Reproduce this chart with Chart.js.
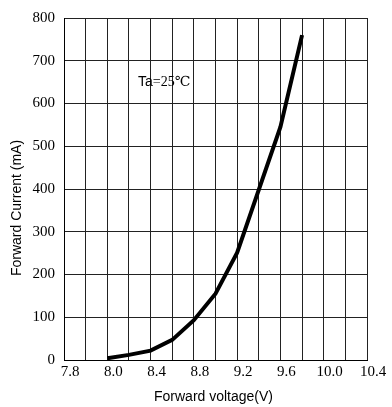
<!DOCTYPE html>
<html>
<head>
<meta charset="utf-8">
<script src="https://cdn.jsdelivr.net/npm/chart.js@4"></script>
<style>
  html, body { margin: 0; padding: 0; background: #fff; }
  #wrap { width: 392px; height: 407px; }
</style>
</head>
<body>
<div id="wrap"><canvas id="ivChart"></canvas></div>
<script>
// Forward voltage (V) vs forward current (mA), Ta = 25C
const voltage = [8.0, 8.2, 8.4, 8.6, 8.8, 9.0, 9.2, 9.6, 9.8];
const current = [4, 12, 22, 47, 93, 155, 251, 545, 760];

// x tick labels as printed on the sheet (first one sits on the 7.6 gridline)
const xTickValues = [7.6, 8.0, 8.4, 8.8, 9.2, 9.6, 10.0, 10.4];
const xTickLabels = ['7.8', '8.0', '8.4', '8.8', '9.2', '9.6', '10.0', '10.4'];

const xTitle = 'Forward voltage(V)';
const yTitle = 'Forward Current (mA)';

const serif = '"Liberation Serif", "DejaVu Serif", serif';
const sans = '"Liberation Sans", Arial, sans-serif';

const textPlugin = {
  id: 'sheetText',
  afterDraw(chart) {
    const { ctx, chartArea } = chart;
    ctx.save();
    ctx.fillStyle = '#000';
    ctx.textBaseline = 'middle';

    // x title
    ctx.font = '14px ' + sans;
    ctx.textAlign = 'center';
    ctx.fillText(xTitle, (chartArea.left + chartArea.right) / 2 - 2, chartArea.bottom + 37);

    // y title
    ctx.save();
    ctx.translate(17, (chartArea.top + chartArea.bottom) / 2 + 19);
    ctx.rotate(-Math.PI / 2);
    ctx.fillText(yTitle, 0, 0);
    ctx.restore();

    // Ta=25℃ note
    ctx.textAlign = 'left';
    let x = chartArea.left + 74;
    const y = chartArea.top + 64;
    ctx.font = '14px ' + sans;
    ctx.fillText('Ta', x, y);
    x += ctx.measureText('Ta').width;
    ctx.font = '14px ' + serif;
    ctx.fillText('=25℃', x, y);
    ctx.restore();
  }
};

new Chart(document.getElementById('ivChart'), {
  type: 'line',
  data: {
    datasets: [{
      data: voltage.map((v, i) => ({ x: v, y: current[i] })),
      borderColor: '#000',
      borderWidth: 4,
      pointRadius: 0,
      tension: 0,
      fill: false
    }]
  },
  options: {
    responsive: true,
    maintainAspectRatio: false,
    animation: false,
    layout: { padding: { top: 15, right: 25, left: 0, bottom: 0 } },
    plugins: {
      legend: { display: false },
      tooltip: { enabled: false }
    },
    scales: {
      x: {
        type: 'linear',
        min: 7.6,
        max: 10.4,
        afterFit(scale) { scale.height = 47; },
        afterBuildTicks(scale) {
          const ticks = [];
          for (let i = 0; i <= 14; i++) ticks.push({ value: Math.round((7.6 + i * 0.2) * 10) / 10 });
          scale.ticks = ticks;
        },
        ticks: {
          autoSkip: false,
          maxRotation: 0,
          padding: 3,
          labelOffset: 6,
          color: '#000',
          font: { family: serif, size: 15 },
          callback(value) {
            const idx = xTickValues.findIndex(t => Math.abs(t - value) < 1e-6);
            return idx >= 0 ? xTickLabels[idx] : '';
          }
        },
        grid: { color: '#222', lineWidth: 1, drawTicks: false },
        border: { color: '#000', width: 1 }
      },
      y: {
        min: 0,
        max: 800,
        afterFit(scale) { scale.width = 64; },
        ticks: {
          stepSize: 100,
          padding: 9,
          color: '#000',
          font: { family: serif, size: 15 }
        },
        grid: { color: '#222', lineWidth: 1, drawTicks: false },
        border: { color: '#000', width: 1 }
      }
    }
  },
  plugins: [textPlugin]
});
</script>
</body>
</html>
